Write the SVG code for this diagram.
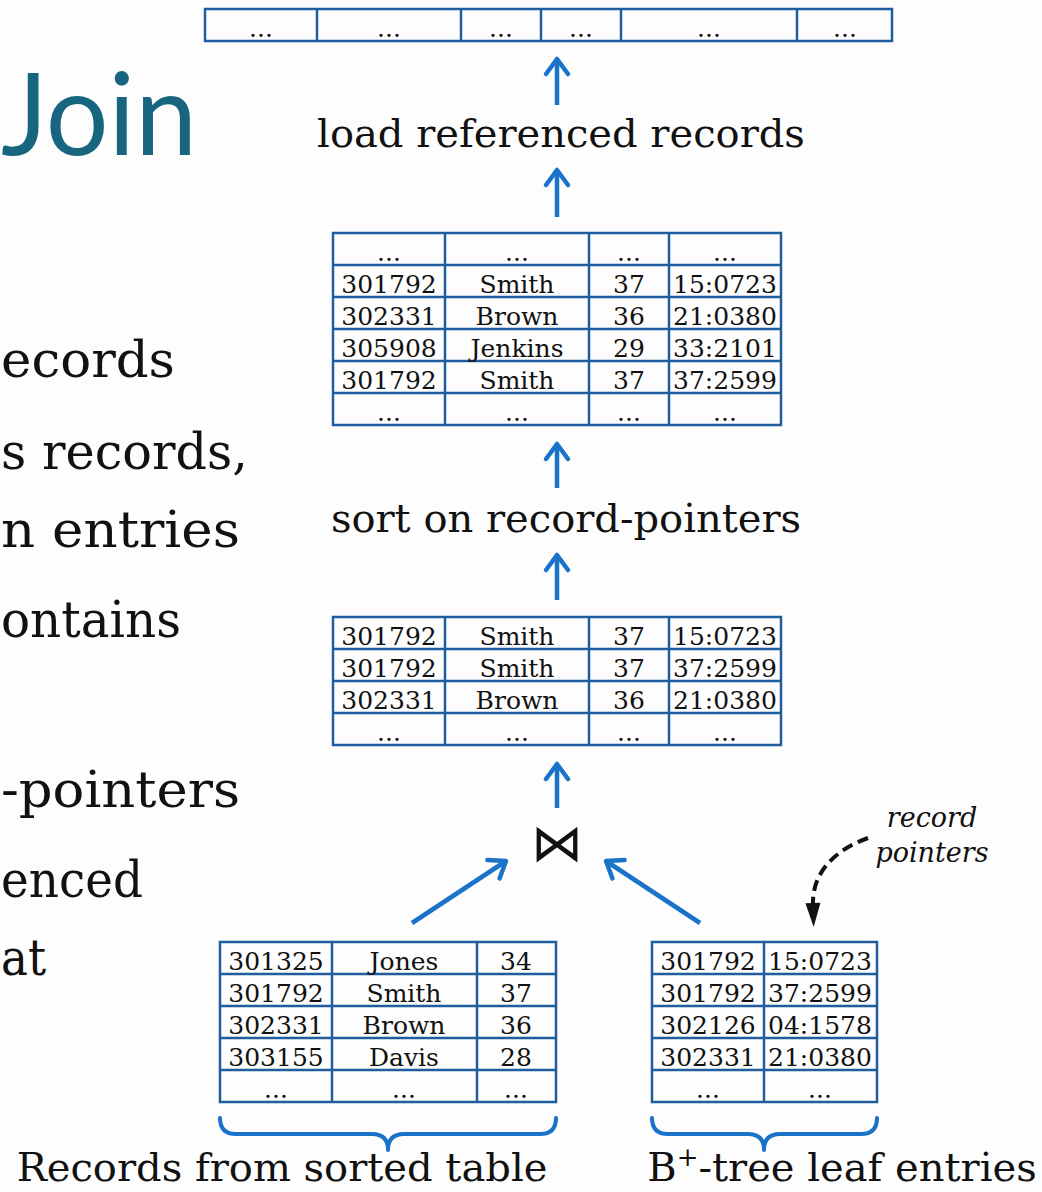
<svg xmlns="http://www.w3.org/2000/svg" width="1042" height="1192" viewBox="0 0 1042 1192">
<style>
.cell{fill:none;stroke:#1f5e9e;stroke-width:2.5}
.grid{stroke:#1f5e9e;stroke-width:2.5}
.t{font-family:"DejaVu Serif","Liberation Serif",serif;font-size:25px;fill:#111;text-anchor:middle}
.lbl{font-family:"DejaVu Serif","Liberation Serif",serif;font-size:40px;fill:#111;text-anchor:middle}
.side{font-family:"DejaVu Serif","Liberation Serif",serif;font-size:50px;fill:#111}
.it{font-family:"DejaVu Serif","Liberation Serif",serif;font-style:italic;font-size:27px;fill:#111;text-anchor:middle}
.arr{stroke:#1a73c8;stroke-width:4.5;fill:none;marker-end:url(#ah)}
.brace{stroke:#1a73c8;stroke-width:4;fill:none;stroke-linecap:round;stroke-linejoin:round}
</style>
<defs>
<marker id="ah" markerUnits="userSpaceOnUse" viewBox="-20 -20 40 40" markerWidth="40" markerHeight="40" refX="0" refY="0" orient="auto">
<path d="M-15,-11 L0,0 L-15,11" fill="none" stroke="#1a73c8" stroke-width="4.5" stroke-linecap="round" stroke-linejoin="round"/>
</marker>
<marker id="bh" markerUnits="userSpaceOnUse" viewBox="-30 -30 60 60" markerWidth="60" markerHeight="60" refX="0" refY="0" orient="auto">
<path d="M-2,-7.5 L22,0 L-2,7.5 Z" fill="#111"/>
</marker>
</defs>
<rect width="1042" height="1192" fill="#fdfdfd"/>

<g id="title">
<text x="1" y="155" font-family="Lato,'Noto Sans',sans-serif" font-size="114" fill="#17657f" textLength="196" lengthAdjust="spacingAndGlyphs">Join</text>
</g>
<g id="side-text">
<text class="side" x="1" y="377" textLength="174" lengthAdjust="spacingAndGlyphs">ecords</text>
<text class="side" x="1" y="469" textLength="247" lengthAdjust="spacingAndGlyphs">s records,</text>
<text class="side" x="1" y="547" textLength="239" lengthAdjust="spacingAndGlyphs">n entries</text>
<text class="side" x="1" y="637" textLength="180" lengthAdjust="spacingAndGlyphs">ontains</text>
<text class="side" x="1" y="807" textLength="239" lengthAdjust="spacingAndGlyphs">-pointers</text>
<text class="side" x="1" y="897" textLength="142" lengthAdjust="spacingAndGlyphs">enced</text>
<text class="side" x="1" y="975" textLength="45" lengthAdjust="spacingAndGlyphs">at</text>
</g>

<g id="records-file">
<rect class="cell" x="205" y="9" width="687" height="32"/>
<path class="grid" d="M317,9V41M461,9V41M541,9V41M621,9V41M797,9V41"/>
<text class="t" x="261" y="37">...</text>
<text class="t" x="389" y="37">...</text>
<text class="t" x="501" y="37">...</text>
<text class="t" x="581" y="37">...</text>
<text class="t" x="709" y="37">...</text>
<text class="t" x="845" y="37">...</text>
</g>

<g id="label-load">
<text class="lbl" x="561" y="147">load referenced records</text>
</g>

<g id="sorted-table">
<rect class="cell" x="333" y="233" width="448" height="192"/>
<path class="grid" d="M445,233V425M589,233V425M669,233V425M333,265H781M333,297H781M333,329H781M333,361H781M333,393H781"/>
<text class="t" x="389" y="261">...</text><text class="t" x="517" y="261">...</text><text class="t" x="629" y="261">...</text><text class="t" x="725" y="261">...</text>
<text class="t" x="389" y="293">301792</text><text class="t" x="517" y="293">Smith</text><text class="t" x="629" y="293">37</text><text class="t" x="725" y="293">15:0723</text>
<text class="t" x="389" y="325">302331</text><text class="t" x="517" y="325">Brown</text><text class="t" x="629" y="325">36</text><text class="t" x="725" y="325">21:0380</text>
<text class="t" x="389" y="357">305908</text><text class="t" x="517" y="357">Jenkins</text><text class="t" x="629" y="357">29</text><text class="t" x="725" y="357">33:2101</text>
<text class="t" x="389" y="389">301792</text><text class="t" x="517" y="389">Smith</text><text class="t" x="629" y="389">37</text><text class="t" x="725" y="389">37:2599</text>
<text class="t" x="389" y="421">...</text><text class="t" x="517" y="421">...</text><text class="t" x="629" y="421">...</text><text class="t" x="725" y="421">...</text>
</g>

<g id="label-sort">
<text class="lbl" x="566" y="532">sort on record-pointers</text>
</g>

<g id="join-table">
<rect class="cell" x="333" y="617" width="448" height="128"/>
<path class="grid" d="M445,617V745M589,617V745M669,617V745M333,649H781M333,681H781M333,713H781"/>
<text class="t" x="389" y="645">301792</text><text class="t" x="517" y="645">Smith</text><text class="t" x="629" y="645">37</text><text class="t" x="725" y="645">15:0723</text>
<text class="t" x="389" y="677">301792</text><text class="t" x="517" y="677">Smith</text><text class="t" x="629" y="677">37</text><text class="t" x="725" y="677">37:2599</text>
<text class="t" x="389" y="709">302331</text><text class="t" x="517" y="709">Brown</text><text class="t" x="629" y="709">36</text><text class="t" x="725" y="709">21:0380</text>
<text class="t" x="389" y="741">...</text><text class="t" x="517" y="741">...</text><text class="t" x="629" y="741">...</text><text class="t" x="725" y="741">...</text>
</g>

<g id="join-op">
<text x="557" y="861" font-family="'DejaVu Sans',sans-serif" font-size="52" fill="#111" text-anchor="middle">⋈</text>
</g>

<g id="record-pointers-label">
<text class="it" x="932" y="827">record</text>
<text class="it" x="932" y="862">pointers</text>
</g>

<g id="sorted-records">
<rect class="cell" x="220" y="942" width="336" height="160"/>
<path class="grid" d="M332,942V1102M477,942V1102M220,974H556M220,1006H556M220,1038H556M220,1070H556"/>
<text class="t" x="276" y="970">301325</text><text class="t" x="404" y="970">Jones</text><text class="t" x="516" y="970">34</text>
<text class="t" x="276" y="1002">301792</text><text class="t" x="404" y="1002">Smith</text><text class="t" x="516" y="1002">37</text>
<text class="t" x="276" y="1034">302331</text><text class="t" x="404" y="1034">Brown</text><text class="t" x="516" y="1034">36</text>
<text class="t" x="276" y="1066">303155</text><text class="t" x="404" y="1066">Davis</text><text class="t" x="516" y="1066">28</text>
<text class="t" x="276" y="1098">...</text><text class="t" x="404" y="1098">...</text><text class="t" x="516" y="1098">...</text>
<path class="brace" d="M220,1118 Q220,1134 236,1134 L372,1134 Q388,1134 388,1150 Q388,1134 404,1134 L540,1134 Q556,1134 556,1118"/>
<text class="lbl" x="282" y="1181">Records from sorted table</text>
</g>

<g id="bplus-leaves">
<rect class="cell" x="652" y="942" width="225" height="160"/>
<path class="grid" d="M764,942V1102M652,974H877M652,1006H877M652,1038H877M652,1070H877"/>
<text class="t" x="708" y="970">301792</text><text class="t" x="820" y="970">15:0723</text>
<text class="t" x="708" y="1002">301792</text><text class="t" x="820" y="1002">37:2599</text>
<text class="t" x="708" y="1034">302126</text><text class="t" x="820" y="1034">04:1578</text>
<text class="t" x="708" y="1066">302331</text><text class="t" x="820" y="1066">21:0380</text>
<text class="t" x="708" y="1098">...</text><text class="t" x="820" y="1098">...</text>
<path class="brace" d="M652,1118 Q652,1134 668,1134 L748,1134 Q764,1134 764,1150 Q764,1134 780,1134 L861,1134 Q877,1134 877,1118"/>
<text class="lbl" x="842" y="1181">B<tspan font-size="26" dy="-15">+</tspan><tspan dy="15">-tree leaf entries</tspan></text>
</g>

<g id="connectors">
<path class="arr" d="M557,105 V59"/>
<path class="arr" d="M557,217 V170"/>
<path class="arr" d="M557,488 V444"/>
<path class="arr" d="M557,600 V555"/>
<path class="arr" d="M557,808 V764"/>
<path class="arr" d="M412,923 L506,861"/>
<path class="arr" d="M700,923 L606,861"/>
<path d="M868,838 C835,850 812,872 813,905" fill="none" stroke="#111" stroke-width="4" stroke-dasharray="11,6" marker-end="url(#bh)"/>
</g>
</svg>
